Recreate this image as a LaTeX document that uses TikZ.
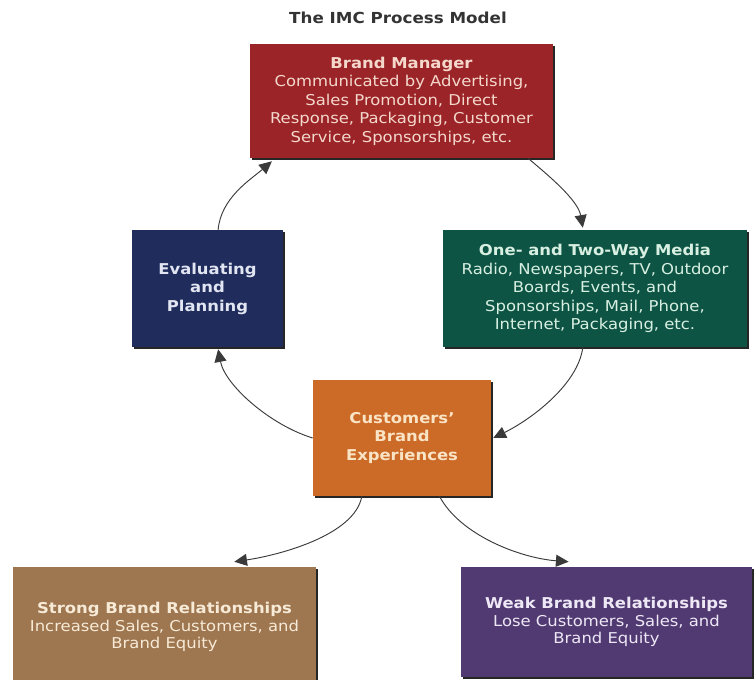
\documentclass[tikz,border=0pt]{standalone}
\usepackage{fontspec}
\setmainfont{DejaVu Sans}[FakeStretch=1.1]
\usetikzlibrary{arrows.meta,calc,shadows}

\definecolor{titlegray}{HTML}{333333}
\definecolor{brandred}{HTML}{9B2428}
\definecolor{brandtxt}{HTML}{F4D8CC}
\definecolor{evalnavy}{HTML}{1F2C5C}
\definecolor{evaltxt}{HTML}{E2E6F2}
\definecolor{mediagreen}{HTML}{0E5445}
\definecolor{mediatxt}{HTML}{D8F0E2}
\definecolor{experorange}{HTML}{CC6A28}
\definecolor{expertxt}{HTML}{FAE4C6}
\definecolor{strongbrown}{HTML}{9E7650}
\definecolor{strongtxt}{HTML}{F7EAD6}
\definecolor{weakpurple}{HTML}{513A72}
\definecolor{weaktxt}{HTML}{EEE8F6}
\definecolor{arrowgray}{HTML}{3A3A3A}

\tikzset{
  panel/.style={rectangle, align=center, inner sep=2pt,
    font=\fontsize{11.2}{13.9}\selectfont,
    drop shadow={shadow xshift=1.5pt, shadow yshift=-1.5pt, fill=black!85, opacity=1}},
  flow/.style={draw=arrowgray, line width=0.7pt,
    -{Triangle[length=9.5pt,width=9pt]}},
}

\begin{document}
\begin{tikzpicture}[x=0.75pt, y=-0.75pt]
\useasboundingbox (0,0) rectangle (754,679);
\fill[white] (0,0) rectangle (754,679);
\clip (0,0) rectangle (754,679);

% title
\node[font=\fontsize{11.4}{13}\selectfont\bfseries, text=titlegray] (title) at (398,18) {The IMC Process Model};

% boxes
\node[panel, fill=brandred, text=brandtxt, minimum width=227.25pt, minimum height=85.5pt] (brand) at (401.5,101)
  {\textbf{Brand Manager}\\Communicated by Advertising,\\Sales Promotion, Direct\\Response, Packaging, Customer\\Service, Sponsorships, etc.};

\node[panel, fill=evalnavy, text=evaltxt, minimum width=113.25pt, minimum height=87.75pt,
  font=\fontsize{11.2}{13.9}\selectfont\bfseries] (evalu) at (207.5,288.5)
  {Evaluating\\and\\Planning};

\node[panel, fill=mediagreen, text=mediatxt, minimum width=228pt, minimum height=87.75pt] (media) at (595,288.5)
  {\textbf{One- and Two-Way Media}\\Radio, Newspapers, TV, Outdoor\\Boards, Events, and\\Sponsorships, Mail, Phone,\\Internet, Packaging, etc.};

\node[panel, fill=experorange, text=expertxt, minimum width=133.5pt, minimum height=87pt,
  font=\fontsize{11.2}{13.9}\selectfont\bfseries] (exper) at (402,438)
  {Customers'\\Brand\\Experiences};

\node[panel, fill=strongbrown, text=strongtxt, minimum width=227.25pt, minimum height=90pt,
  font=\fontsize{11.2}{13}\selectfont] (strong) at (164.5,627)
  {\textbf{Strong Brand Relationships}\\Increased Sales, Customers, and\\Brand Equity};

\node[panel, fill=weakpurple, text=weaktxt, minimum width=218.25pt, minimum height=82.5pt,
  font=\fontsize{11.2}{13}\selectfont] (weak) at (606.5,622)
  {\textbf{Weak Brand Relationships}\\Lose Customers, Sales, and\\Brand Equity};

% connectors
\draw[flow] ($(evalu.north west)!0.57!(evalu.north east)$)
  .. controls (221,198) and (250,180) .. ($(brand.south west)!0.073!(brand.south east)+(0,3)$);
\draw[flow] ($(brand.south west)!0.917!(brand.south east)$)
  .. controls (548,175) and (578,200) .. ($(media.north west)!0.46!(media.north east)+(0,-2)$);
\draw[flow] ($(media.south west)!0.46!(media.south east)$)
  .. controls (578,385) and (530,420) .. ($(exper.east)+(2,0)$);
\draw[flow] (exper.west)
  .. controls (270,425) and (225,385) .. ($(evalu.south west)!0.57!(evalu.south east)+(0,2)$);
\draw[flow] ($(exper.south west)!0.275!(exper.south east)$)
  .. controls (355,535) and (280,555) .. ($(strong.north west)!0.73!(strong.north east)+(0,-5)$);
\draw[flow] ($(exper.south west)!0.71!(exper.south east)$)
  .. controls (460,535) and (520,558) .. ($(weak.north west)!0.37!(weak.north east)+(0,-5)$);
\end{tikzpicture}
\end{document}
